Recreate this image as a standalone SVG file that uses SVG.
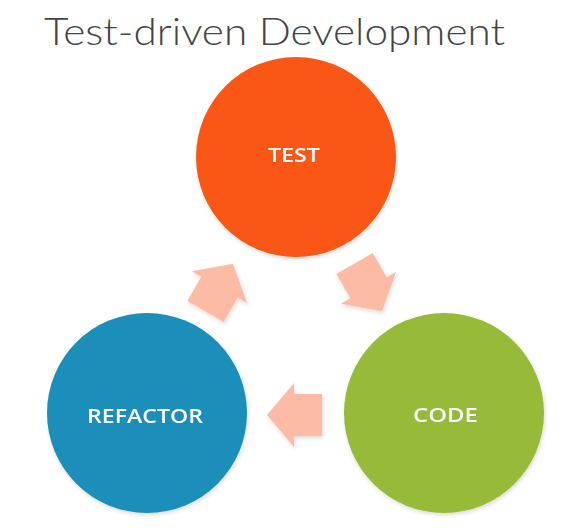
<svg xmlns="http://www.w3.org/2000/svg" width="576" height="528" viewBox="0 0 576 528">
<style>
.title{font-family:Lato,"Open Sans","Liberation Sans",sans-serif;font-weight:300;font-size:38px;fill:#444}
.lbl{font-family:"Open Sans","Liberation Sans",sans-serif;font-weight:600;font-size:20px;fill:#fff;text-anchor:middle}
.arr{fill:#FDBBA6}
</style>
<defs>
<filter id="sh" x="-20%" y="-20%" width="140%" height="140%">
<feDropShadow dx="1" dy="2" stdDeviation="2" flood-color="#000" flood-opacity="0.15"/>
</filter>
<path id="arrow" d="M-28,0 L-1,-32 L-1,-21 L27,-21 L27,21 L-1,21 L-1,32 Z"/>
</defs>
<rect width="576" height="528" fill="#fff"/>
<text class="title" x="44" y="45" textLength="461" lengthAdjust="spacingAndGlyphs">Test-driven Development</text>
<g id="connectors" class="arr" filter="url(#sh)">
<use href="#arrow" transform="translate(219,288) rotate(120)"/>
<use href="#arrow" transform="translate(368,287) rotate(240)"/>
<use href="#arrow" transform="translate(295,415)"/>
</g>
<g id="test" filter="url(#sh)">
<circle cx="296" cy="157" r="100" fill="#FA5716"/>
<text class="lbl" x="294" y="162" textLength="52" lengthAdjust="spacingAndGlyphs">TEST</text>
</g>
<g id="code" filter="url(#sh)">
<circle cx="444" cy="413" r="100" fill="#97BB39"/>
<text class="lbl" x="445.5" y="422" textLength="65" lengthAdjust="spacingAndGlyphs">CODE</text>
</g>
<g id="refactor" filter="url(#sh)">
<circle cx="147" cy="413" r="100" fill="#1F8EBA"/>
<text class="lbl" x="145" y="423" textLength="116" lengthAdjust="spacingAndGlyphs">REFACTOR</text>
</g>
</svg>
